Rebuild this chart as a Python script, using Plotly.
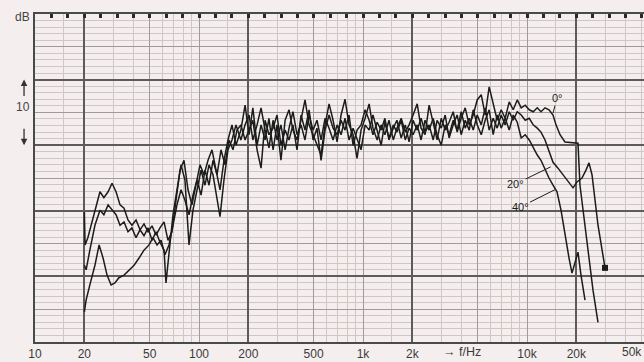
import numpy as np
import plotly.graph_objects as go

# ---------------- data (frequency in Hz, level in dB) ----------------
f_mid = [180, 191, 202, 213, 226, 239, 253, 267, 283, 299,
         316, 335, 354, 374, 396, 419, 443, 469, 496, 524,
         555, 587, 621, 657, 695, 735, 777, 822, 870, 920,
         973, 1030, 1090, 1150, 1220, 1290, 1360, 1440, 1530, 1610,
         1710, 1810, 1910, 2020, 2140, 2260, 2390, 2530, 2680, 2830,
         3000, 3170, 3350, 3550, 3750, 3970, 4200, 4440, 4700, 4970,
         5260, 5560, 5880, 6220, 6580, 6960, 7360, 7790, 8240, 8720,
         9220, 9750, 10320, 10910, 11550]

# 0 degree curve
f0_bass = [20.0, 20.2, 21.0, 22.3, 23.6, 24.9, 26.3, 27.9, 29.5, 31.2,
           33.0, 34.9, 36.9, 39.0, 41.3, 43.7, 46.2, 48.9, 51.7, 54.7,
           57.8, 61.2, 64.7, 68.4, 72.4, 76.6, 81.0, 85.7, 90.6, 95.9,
           101.4, 107.3, 113.5, 120.0, 127.0, 134.3, 142.0, 150.2, 158.9, 168.1]
db0_bass = [19.8, 14.8, 15.9, 18.3, 20.9, 22.9, 22.0, 22.9, 24.2, 22.9,
            20.9, 20.4, 18.6, 17.8, 18.6, 17.1, 18.0, 16.8, 17.7, 16.3,
            17.4, 18.3, 15.5, 16.8, 21.6, 26.2, 27.7, 23.2, 20.9, 23.9,
            27.0, 25.5, 27.7, 29.3, 26.2, 23.2, 27.7, 30.8, 33.1, 30.0]
db0_mid = [32.3, 36.1, 31.6, 35.7, 30.0, 33.1, 30.8, 34.1, 29.3, 33.1,
           27.7, 33.8, 35.4, 32.3, 30.8, 34.1, 36.9, 33.1, 31.6, 30.0,
           28.5, 33.1, 36.3, 33.8, 30.5, 34.6, 37.0, 33.1, 31.6, 28.0,
           32.3, 34.1, 36.3, 32.6, 30.8, 33.1, 31.6, 33.8, 30.8, 32.6,
           34.1, 32.0, 33.1, 34.6, 36.3, 32.6, 31.6, 36.1, 33.1, 30.8,
           34.1, 32.3, 33.5, 35.1, 32.0, 34.1, 35.7, 33.1, 34.6, 36.9,
           37.7, 34.6, 38.9, 36.1, 33.8, 35.4, 34.1, 36.6, 35.4, 36.9,
           35.7, 36.1, 35.4, 35.1, 35.7]
f0_top = [12170, 12880, 13620, 14410, 15030, 15900, 17050, 20460, 21040, 23550, 25260, 27100]
db0_top = [35.1, 35.7, 35.4, 34.6, 33.1, 31.6, 30.5, 30.3, 23.9, 14.0, 7.9, 3.0]

# 20 degree curve
f20_bass = [20.0, 20.5, 21.6, 23.2, 24.9, 26.3, 27.9, 29.5, 31.2, 33.0,
            34.9, 36.9, 39.0, 41.3, 43.7, 46.2, 48.9, 51.7, 54.7, 57.8,
            61.2, 62.9, 65.6, 69.4, 73.4, 77.7, 82.1, 86.9, 91.9, 97.2,
            102.9, 108.8, 115.1, 121.7, 128.8, 134.3, 142.0, 150.2, 158.9, 168.1]
db20_bass = [11.7, 11.0, 14.0, 17.8, 20.1, 19.4, 20.9, 20.1, 19.4, 17.8,
             18.3, 16.8, 17.4, 15.9, 17.1, 16.2, 17.4, 15.5, 16.8, 15.2,
             14.0, 9.0, 13.3, 19.4, 23.2, 27.0, 24.7, 14.8, 20.1, 23.2,
             26.2, 23.9, 27.0, 25.5, 21.6, 19.1, 24.7, 29.3, 30.8, 33.1]
db20_mid = [30.8, 33.1, 34.6, 30.8, 33.1, 35.7, 32.3, 29.6, 33.8, 30.8,
            33.1, 29.3, 32.6, 35.1, 31.6, 33.1, 30.8, 34.6, 32.3, 33.8,
            30.8, 34.1, 32.6, 30.8, 33.1, 31.6, 34.1, 30.8, 32.6, 30.8,
            29.3, 33.1, 32.3, 34.6, 32.3, 30.0, 33.5, 31.1, 33.1, 32.0,
            33.8, 30.8, 32.6, 31.6, 33.1, 30.8, 33.8, 32.3, 34.1, 31.6,
            30.0, 33.1, 31.6, 33.8, 32.3, 35.1, 32.6, 34.1, 32.3, 34.6,
            33.1, 35.7, 32.3, 34.1, 32.6, 34.6, 33.1, 35.1, 33.8, 35.1,
            34.6, 33.8, 34.1, 33.1, 32.6]
f20_top = [12170, 12880, 13620, 14410, 15450, 16580, 17780, 19080, 20180, 21640,
           22890, 23880, 24910, 27100, 29900]
db20_top = [32.0, 30.8, 29.0, 27.4, 26.5, 25.5, 24.4, 23.5, 24.4, 25.0,
            26.2, 27.3, 25.5, 17.8, 11.3]

# 40 degree curve
f40_bass = [20.0, 20.5, 21.6, 23.2, 24.6, 26.0, 27.5, 29.1, 30.7, 32.5,
            34.9, 37.4, 40.2, 43.1, 46.2, 49.6, 52.4, 55.5, 58.7, 62.0,
            65.6, 69.4, 73.4, 77.7, 82.1, 86.9, 91.9, 97.2, 102.9, 108.8,
            115.1, 121.7, 128.8, 136.2, 144.1, 152.4, 161.2, 170.5]
db40_bass = [4.6, 6.4, 8.7, 11.7, 14.8, 12.8, 10.2, 8.7, 9.0, 9.8,
             10.2, 11.0, 11.7, 12.8, 14.0, 14.8, 15.9, 14.8, 15.5, 13.3,
             14.8, 17.8, 20.9, 23.2, 21.6, 19.4, 22.4, 24.7, 22.4, 26.2,
             23.9, 27.7, 25.5, 29.3, 27.0, 30.8, 29.3, 32.3]
db40_mid = [33.1, 30.8, 32.3, 33.8, 29.3, 26.5, 33.8, 31.6, 32.6, 34.6,
            30.0, 32.3, 30.8, 33.1, 29.3, 34.6, 32.3, 35.4, 30.8, 32.6,
            27.7, 32.3, 34.6, 32.6, 31.6, 33.8, 32.3, 34.6, 30.0, 32.3,
            33.1, 35.4, 33.8, 31.6, 33.5, 32.3, 34.1, 30.8, 32.6, 33.8,
            31.1, 33.1, 30.5, 33.8, 32.3, 34.1, 32.0, 33.1, 30.8, 33.8,
            32.6, 34.6, 31.1, 33.1, 34.6, 31.6, 33.8, 32.3, 35.4, 33.1,
            31.6, 33.8, 35.4, 31.6, 34.6, 32.6, 34.1, 32.3, 34.6, 33.5,
            31.1, 31.6, 30.8, 29.6, 28.5]
f40_top = [12170, 12880, 13620, 14410, 15240, 16120, 17050, 18040, 18810, 19620,
           20460, 21340, 22580]
db40_top = [27.7, 26.2, 25.0, 23.9, 22.9, 20.1, 16.3, 12.8, 10.5, 12.2,
            13.7, 10.2, 6.4]

tick_f = [10, 20, 50, 100, 200, 500, 1000, 2000, 5000, 10000, 20000, 50000]
tick_txt = ["10", "20", "50", "100", "200", "500", "1k", "2k", "", "10k", "20k", "50k"]
curve_names = ["0°", "20°", "40°"]

# ---------------- style ----------------
PAPER = "#f4efee"
INK = "#1c1c1c"
FINE = "#cfc7c6"
MED = "#a09b9a"
THICK = "#5e5b5b"
XMAX = 4.7134  # log10 of right edge frequency
minor_f = [m * 10 ** d for d in (1, 2, 3, 4) for m in (1.5, 3, 4, 6, 7, 8, 9)]
thick_f = [20, 200, 2000, 20000]
thick_db = [10, 20, 30, 40]

curves = [
    (f0_bass + f_mid + f0_top, db0_bass + db0_mid + db0_top),
    (f20_bass + f_mid + f20_top, db20_bass + db20_mid + db20_top),
    (f40_bass + f_mid + f40_top, db40_bass + db40_mid + db40_top),
]

fig = go.Figure()
# empty helper traces so that the overlay axes (thick grid, top ticks) exist
fig.add_trace(go.Scatter(x=[], y=[], xaxis="x3", yaxis="y2", showlegend=False, hoverinfo="skip"))
fig.add_trace(go.Scatter(x=[], y=[], xaxis="x2", yaxis="y", showlegend=False, hoverinfo="skip"))

for name, (fx, dy) in zip(curve_names, curves):
    fig.add_trace(go.Scatter(x=fx, y=dy, mode="lines", name=name,
                             line=dict(color=INK, width=1.5), showlegend=False))

# end marker of the 20° sweep
fig.add_trace(go.Scatter(x=[f20_top[-1]], y=[db20_top[-1]], mode="markers",
                         marker=dict(symbol="square", size=6, color=INK),
                         showlegend=False, hoverinfo="skip"))

annotations = [
    dict(text="dB", xref="paper", yref="paper", x=-0.021, y=0.99,
         xanchor="center", yanchor="middle", showarrow=False,
         font=dict(size=12, color="#444")),
    dict(text="10", xref="paper", yref="y", x=-0.020, y=35.8,
         xanchor="center", yanchor="middle", showarrow=False,
         font=dict(size=12, color="#444")),
    dict(text="", xref="paper", yref="y", x=-0.018, y=40, ax=0, ay=18,
         showarrow=True, arrowhead=2, arrowsize=1, arrowwidth=1.3, arrowcolor="#333"),
    dict(text="", xref="paper", yref="y", x=-0.018, y=30, ax=0, ay=-18,
         showarrow=True, arrowhead=2, arrowsize=1, arrowwidth=1.3, arrowcolor="#333"),
    dict(text="→ f/Hz", xref="x", yref="paper", x=np.log10(4000), y=0,
         yanchor="top", yshift=-1, showarrow=False,
         font=dict(size=12.5, color="#3a3a3a")),
    # right-most label, kept inside the picture edge
    dict(text=tick_txt[-1], xref="paper", yref="paper", x=1, y=0,
         xanchor="right", yanchor="top", yshift=-1, showarrow=False,
         font=dict(size=12, color="#3a3a3a")),
    dict(text=curve_names[0], xref="x", yref="y", x=np.log10(14410), y=34.9,
         ax=4, ay=-15, showarrow=True, arrowhead=0, arrowwidth=1, arrowcolor=INK,
         font=dict(size=11, color=INK)),
    dict(text=curve_names[1], xref="x", yref="y", x=np.log10(13950), y=26.7,
         ax=-35, ay=17, showarrow=True, arrowhead=0, arrowwidth=1, arrowcolor=INK,
         font=dict(size=11, color=INK)),
    dict(text=curve_names[2], xref="x", yref="y", x=np.log10(15030), y=23.3,
         ax=-36, ay=18, showarrow=True, arrowhead=0, arrowwidth=1, arrowcolor=INK,
         font=dict(size=11, color=INK)),
]

fig.update_layout(
    width=644, height=362,
    margin=dict(l=35, r=0, t=14, b=20),
    paper_bgcolor=PAPER, plot_bgcolor=PAPER,
    font=dict(family="Liberation Sans, Arial, sans-serif", size=11, color="#3a3a3a"),
    annotations=annotations,
    xaxis=dict(type="log", range=[1, XMAX], tickmode="array",
               tickvals=tick_f[:-1], ticktext=tick_txt[:-1], ticks="",
               showgrid=True, gridcolor=MED, gridwidth=1,
               minor=dict(tickmode="array", tickvals=minor_f + tick_f[-1:], showgrid=True,
                          gridcolor=FINE, gridwidth=1, ticks=""),
               showline=True, linecolor="#4a4a4a", linewidth=2,
               zeroline=False, tickfont=dict(size=12, color="#3a3a3a")),
    xaxis2=dict(overlaying="x", side="top", anchor="y", type="linear",
                range=[1, XMAX], tick0=1, dtick=0.1, ticks="inside",
                ticklen=4, tickwidth=3, tickcolor="#2a2a2a",
                showticklabels=False, showgrid=False, zeroline=False,
                showline=True, linecolor="#4a4a4a", linewidth=2),
    xaxis3=dict(overlaying="x", anchor="y2", type="log", range=[1, XMAX],
                tickmode="array", tickvals=thick_f, showticklabels=False, ticks="",
                showgrid=True, gridcolor=THICK, gridwidth=2,
                showline=False, zeroline=False),
    yaxis=dict(range=[0, 50], showticklabels=False, ticks="",
               dtick=5, showgrid=True, gridcolor=MED, gridwidth=1,
               minor=dict(dtick=1, showgrid=True, gridcolor=FINE, gridwidth=1),
               showline=True, linecolor="#4a4a4a", linewidth=2, zeroline=False),
    yaxis2=dict(overlaying="y", anchor="x3", range=[0, 50],
                tickmode="array", tickvals=thick_db, showticklabels=False, ticks="",
                showgrid=True, gridcolor=THICK, gridwidth=2,
                showline=False, zeroline=False),
)

fig.write_html("out.html")
